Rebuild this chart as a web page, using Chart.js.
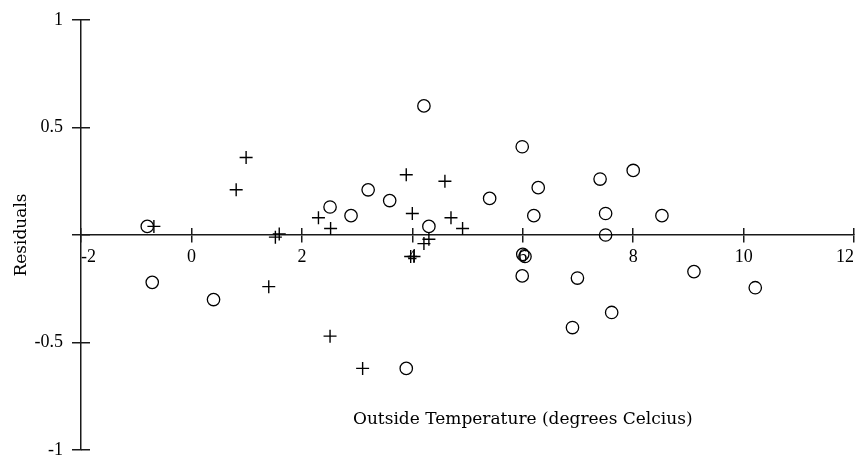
<!DOCTYPE html>
<html>
<head>
<meta charset="utf-8">
<script src="https://cdn.jsdelivr.net/npm/chart.js@4.4.1/dist/chart.umd.min.js"></script>
<style>
  html, body { margin: 0; padding: 0; background: #fff; }
  #wrap { width: 862px; height: 470px; position: relative; }
</style>
</head>
<body>
<div id="wrap"><canvas id="residChart"></canvas></div>
<script>
// residuals vs outside temperature, two groups
var circleX = [-0.80, -0.71, 0.40, 2.51, 2.89, 3.20, 3.59, 4.21, 4.30, 3.89, 5.40, 5.99, 6.28, 6.20, 6.00, 6.04, 5.99, 6.99, 6.90, 7.40, 7.50, 7.50, 7.61, 8.00, 8.52, 9.10, 10.21];
var circleY = [0.04, -0.22, -0.30, 0.13, 0.09, 0.21, 0.16, 0.60, 0.04, -0.62, 0.17, 0.41, 0.22, 0.09, -0.09, -0.10, -0.19, -0.20, -0.43, 0.26, 0.10, 0.00, -0.36, 0.30, 0.09, -0.17, -0.245];

var plusX = [-0.68, 0.81, 0.99, 1.40, 1.52, 1.59, 2.30, 2.52, 2.51, 3.10, 3.89, 4.00, 4.59, 4.70, 4.91, 4.30, 4.21, 3.97, 4.03];
var plusY = [0.04, 0.21, 0.36, -0.24, -0.01, 0.005, 0.08, 0.03, -0.47, -0.62, 0.28, 0.10, 0.25, 0.08, 0.03, -0.02, -0.04, -0.10, -0.10];

var xTicks = [-2, 0, 2, 4, 6, 8, 10, 12];
var xTickLabels = ['-2', '0', '2', '4', '6', '8', '10', '12'];
var yTicks = [-1, -0.5, 0, 0.5, 1];
var yTickLabels = ['-1', '-0.5', '', '0.5', '1'];

var xTitle = 'Outside Temperature (degrees Celcius)';
var yTitle = 'Residuals';

function pairs(xs, ys) {
  var out = [];
  for (var i in xs) {
    out.push({x: xs[i], y: ys[i]});
  }
  return out;
}

var axisColor = '#1a1a1a';
var tickFont = {family: '"Liberation Serif", serif', size: 18};
var titleFont = {family: '"DejaVu Serif", serif', size: 17};

function setTicks(values) {
  return function(scale) {
    scale.ticks = values.map(function(v) { return {value: v}; });
  };
}

// draws the x axis title inside the plot, below the points
const xTitlePlugin = {
  id: 'xTitle',
  afterDraw(chart) {
    const ctx = chart.ctx;
    ctx.save();
    ctx.font = '17px "DejaVu Serif"';
    ctx.fillStyle = '#000';
    ctx.textAlign = 'center';
    ctx.textBaseline = 'middle';
    ctx.fillText(xTitle, chart.scales.x.getPixelForValue(6), chart.scales.y.getPixelForValue(-0.86));
    ctx.restore();
  }
};

const data = {
  datasets: [{
    label: 'circles',
    data: pairs(circleX, circleY),
    pointStyle: 'circle',
    pointRadius: 6.2,
    pointBorderWidth: 1.3,
    pointBorderColor: '#000',
    pointBackgroundColor: 'rgba(0,0,0,0)'
  },
  {
    label: 'plus',
    data: pairs(plusX, plusY),
    pointStyle: 'cross',
    pointRadius: 6.5,
    pointBorderWidth: 1.4,
    pointBorderColor: '#000',
    pointBackgroundColor: '#000'
  }]
};

// second x / y scale only for the half of each tick mark inside the plot
const config = {
  type: 'scatter',
  data,
  options: {
    responsive: true,
    maintainAspectRatio: false,
    animation: false,
    events: [],
    layout: {padding: {top: 15, right: 5, bottom: 12, left: 0}},
    plugins: {
      legend: {display: false},
      tooltip: {enabled: false}
    },
    scales: {
      x: {
        type: 'linear',
        axis: 'x',
        position: {y: 0},
        min: -2, max: 12,
        afterBuildTicks: setTicks(xTicks),
        afterFit: function(s) { s.height = 0; },
        border: {display: true, color: axisColor, width: 1.5},
        grid: {drawOnChartArea: false, drawTicks: true, tickLength: 7, color: axisColor, lineWidth: 1.5},
        ticks: {
          align: 'inner',
          padding: 4,
          color: '#000',
          font: tickFont,
          callback: function(v, i) { return xTickLabels[i]; }
        }
      },
      xIn: {
        type: 'linear',
        axis: 'x',
        position: {y: 0},
        min: -2, max: 12,
        afterBuildTicks: setTicks(xTicks),
        afterFit: function(s) { s.height = 0; },
        border: {display: false},
        grid: {drawOnChartArea: false, drawTicks: true, tickLength: -7, color: axisColor, lineWidth: 1.5},
        ticks: {display: false}
      },
      y: {
        type: 'linear',
        axis: 'y',
        position: 'left',
        weight: 1,
        min: -1, max: 1,
        afterBuildTicks: setTicks(yTicks),
        afterFit: function(s) { s.width = 81; },
        border: {display: true, color: axisColor, width: 1.5},
        grid: {drawOnChartArea: false, drawTicks: true, tickLength: 9, color: axisColor, lineWidth: 1.5},
        ticks: {
          padding: 9,
          color: '#000',
          font: tickFont,
          callback: function(v, i) { return yTickLabels[i]; }
        },
        title: {
          display: true,
          text: yTitle,
          color: '#000',
          font: titleFont,
          padding: {top: 11, bottom: 0}
        }
      },
      yIn: {
        type: 'linear',
        axis: 'y',
        position: 'left',
        weight: 0,
        min: -1, max: 1,
        afterBuildTicks: setTicks(yTicks),
        afterFit: function(s) { s.width = 0; },
        border: {display: false},
        grid: {drawOnChartArea: false, drawTicks: true, tickLength: -9, color: axisColor, lineWidth: 1.5},
        ticks: {display: false}
      }
    }
  },
  plugins: [xTitlePlugin]
};

var myChart = new Chart(document.getElementById('residChart'), config);
</script>
</body>
</html>
